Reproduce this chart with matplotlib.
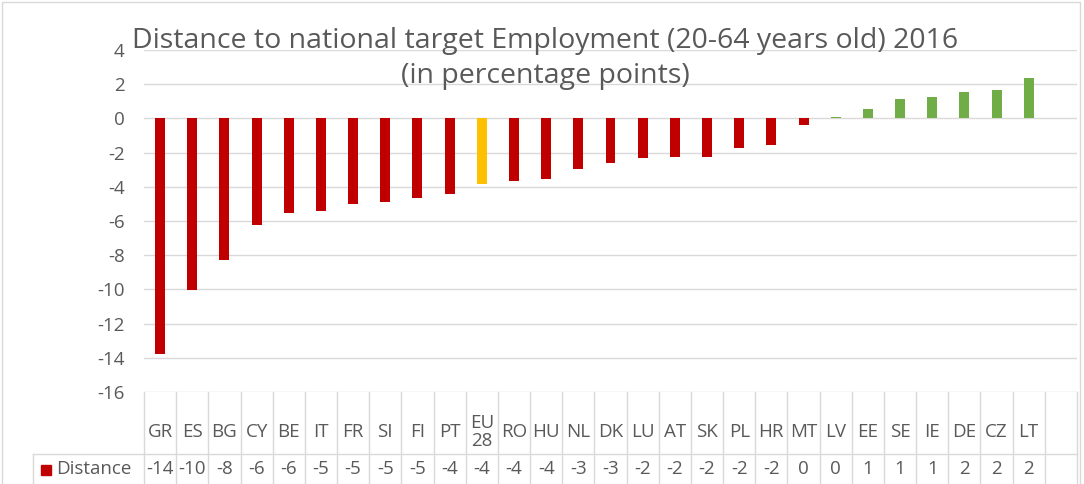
import matplotlib.pyplot as plt
import matplotlib.transforms as mtransforms
import matplotlib.patches as mpatches

# data (percentage points, 2016)
countries = ["GR", "ES", "BG", "CY", "BE", "IT", "FR", "SI", "FI", "PT", "EU\n28",
             "RO", "HU", "NL", "DK", "LU", "AT", "SK", "PL", "HR", "MT", "LV",
             "EE", "SE", "IE", "DE", "CZ", "LT"]
distance = [-13.8, -10.05, -8.3, -6.22, -5.52, -5.44, -5.03, -4.9, -4.64, -4.44, -3.86,
            -3.68, -3.52, -2.95, -2.61, -2.34, -2.24, -2.24, -1.75, -1.56, -0.41, 0.1,
            0.56, 1.15, 1.26, 1.54, 1.65, 2.36]
series_name = "Distance"
title_1 = "Distance to national target Employment (20-64 years old) 2016"
title_2 = "(in percentage points)"

RED, AMBER, GREEN = "#C00000", "#FFC000", "#70AD47"
GREY_TXT, GRID = "#595959", "#D9D9D9"

plt.rcParams["font.family"] = ["Open Sans", "DejaVu Sans"]
plt.rcParams["font.size"] = 13.5
plt.rcParams["axes.unicode_minus"] = False

W, H = 1084, 484
fig = plt.figure(figsize=(W / 100, H / 100), dpi=100)
ax = fig.add_axes([144 / W, 1 - 392 / H, (1077 - 144) / W, (392 - 50) / H])

n_cols = len(countries) + 1  # Excel leaves one empty column at the end
xs = list(range(len(countries)))
colors = []
for c, v in zip(countries, distance):
    if c.startswith("EU"):
        colors.append(AMBER)
    elif v >= 0:
        colors.append(GREEN)
    else:
        colors.append(RED)
ax.bar(xs, distance, width=0.31, color=colors, zorder=3)

ax.set_xlim(-0.5, n_cols - 0.5)
ax.set_ylim(-16, 4)
ax.set_yticks(range(-16, 5, 2))
ax.set_xticks([])
ax.tick_params(axis="y", length=0, pad=14, labelcolor=GREY_TXT, labelsize=13.5)
ax.yaxis.grid(True, color=GRID, lw=1)
ax.set_axisbelow(True)
for s in ax.spines.values():
    s.set_visible(False)

# data table under the axis
trans = mtransforms.blended_transform_factory(ax.transData, ax.transAxes)
row1 = (392 - 454) / 342
row_bot = (392 - 490) / 342
left_cell = (33 - 144) / 933
for i in range(n_cols + 1):
    ax.plot([i - 0.5, i - 0.5], [0, row_bot], transform=trans, color=GRID,
            lw=1, clip_on=False)
ax.plot([left_cell, 1], [row1, row1], transform=ax.transAxes, color=GRID,
        lw=1, clip_on=False)
ax.plot([left_cell, left_cell], [row1, row_bot], transform=ax.transAxes,
        color=GRID, lw=1, clip_on=False)

for x, c, v in zip(xs, countries, distance):
    ax.text(x, (392 - 432) / 342, c, transform=trans, ha="center", va="center",
            color=GREY_TXT, linespacing=0.95, clip_on=False)
    ax.text(x, (392 - 469) / 342, f"{round(v)}", transform=trans, ha="center",
            va="center", color=GREY_TXT, clip_on=False)

ax.add_patch(mpatches.Rectangle(((41 - 144) / 933, (392 - 475) / 342),
                                10 / 933, 10 / 342, transform=ax.transAxes,
                                color=RED, clip_on=False))
ax.text((56 - 144) / 933, (392 - 469) / 342, series_name, transform=ax.transAxes,
        ha="left", va="center", color=GREY_TXT, clip_on=False)

fig.text(545 / W, 1 - 41 / H, title_1, ha="center", va="center",
         color=GREY_TXT, fontsize=20.5)
fig.text(545 / W, 1 - 76 / H, title_2, ha="center", va="center",
         color=GREY_TXT, fontsize=20.5)

fig.patches.append(mpatches.Rectangle((2 / W, -0.01), (1080 - 2) / W, 1 - 2 / H + 0.01,
                                      transform=fig.transFigure, fill=False,
                                      edgecolor=GRID, lw=1))

fig.savefig("out.png", dpi=100)
